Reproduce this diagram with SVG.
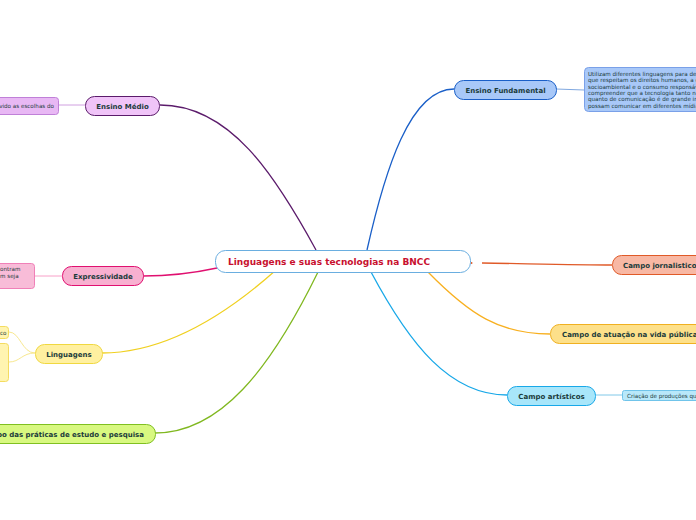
<svg xmlns="http://www.w3.org/2000/svg" width="696" height="520" viewBox="0 0 696 520">
<style>
.lbl{font-family:"DejaVu Sans",Verdana,sans-serif;font-weight:bold;font-size:7px;fill:#1b3b3b}
.sm{font-family:"DejaVu Sans",Verdana,sans-serif;font-size:5.6px;fill:#1b3b3b}
.con{fill:none;stroke-width:1.3}
.sub{fill:none;stroke-width:1}
</style>
<rect width="696" height="520" fill="#ffffff"/>
<g id="connectors">
<path class="con" d="M160,105 C230,105 275,175 316,250" stroke="#5b1b6b"/>
<path class="con" d="M367,250 C385,170 410,89 454,89" stroke="#1a5fc8"/>
<path class="con" d="M482,263 C540,264 580,265 612,265" stroke="#e05a28"/>
<circle cx="471.5" cy="263" r="1" fill="#e05a28"/>
<path class="con" d="M428,272 C470,315 500,334 550,334" stroke="#f8b020"/>
<path class="con" d="M371,272 C410,345 450,395 507,395" stroke="#18a8e8"/>
<path class="con" d="M217,268 C185,275 165,276 143,276" stroke="#e01070"/>
<path class="con" d="M276,270 C220,320 160,353 102,353" stroke="#f0d020"/>
<path class="con" d="M318,272 C270,370 220,433 155,433" stroke="#80b820"/>
<path class="sub" d="M59,105 L85,105" stroke="#d0a0e0"/>
<path class="sub" d="M556,89 L584,90" stroke="#80a8e0"/>
<path class="sub" d="M35,276 L62,276" stroke="#f8a0c8"/>
<path class="sub" d="M595,395 L622,395" stroke="#80c8e8"/>
<path class="sub" d="M35,353 C22,353 20,332 9,332" stroke="#f8e890"/>
<path class="sub" d="M35,353 C22,353 20,362 9,362" stroke="#f8e890"/>
</g>
<g id="central">
<rect x="215.5" y="250.5" width="255" height="22" rx="10" fill="#ffffff" stroke="#6aaee0" stroke-width="1"/>
<text x="228" y="265" font-family="DejaVu Sans,Verdana,sans-serif" font-weight="bold" font-size="9" fill="#c8102e">Linguagens e suas tecnologias na BNCC</text>
</g>
<g id="ensino-medio">
<rect x="85.5" y="96.5" width="74" height="19" rx="9" fill="#f0c4f8" stroke="#5b1b6b"/>
<text class="lbl" x="122.5" y="108.5" text-anchor="middle">Ensino Médio</text>
</g>
<g id="ensino-medio-note">
<rect x="-5.5" y="97.5" width="64" height="17" rx="3" fill="#e8b8f4" stroke="#c080d8"/>
<text class="sm" x="54" y="107.5" text-anchor="end">vido as escolhas do</text>
</g>
<g id="ensino-fundamental">
<rect x="454.5" y="80.5" width="102" height="19" rx="9" fill="#a8c8f8" stroke="#1a5fc8"/>
<text class="lbl" x="505.5" y="92.5" text-anchor="middle">Ensino Fundamental</text>
</g>
<g id="ensino-fundamental-note">
<rect x="584.5" y="67.5" width="120" height="44" rx="4" fill="#a8c8f8" stroke="#7aa0e8"/>
<text class="sm" x="588" y="76">Utilizam diferentes linguagens para def</text>
<text class="sm" x="588" y="82.3">que respeitam os direitos humanos, a c</text>
<text class="sm" x="588" y="88.6">socioambiental e o consumo responsáv</text>
<text class="sm" x="588" y="94.9">compreender que a tecnologia tanto na</text>
<text class="sm" x="588" y="101.2">quanto de comunicação é de grande im</text>
<text class="sm" x="588" y="107.5">possam comunicar em diferentes mídia</text>
</g>
<g id="campo-jornalistico">
<rect x="612.5" y="255.5" width="95" height="19" rx="9" fill="#f8b8a4" stroke="#e05a28"/>
<text class="lbl" x="623" y="268">Campo jornalistico</text>
</g>
<g id="campo-atuacao">
<rect x="550.5" y="324.5" width="155" height="19" rx="9" fill="#fde08a" stroke="#f0b020"/>
<text class="lbl" x="562" y="337">Campo de atuação na vida pública</text>
</g>
<g id="campo-artisticos">
<rect x="507.5" y="386.5" width="88" height="19" rx="9" fill="#a8e6fa" stroke="#18a8e8"/>
<text class="lbl" x="551.5" y="398.5" text-anchor="middle">Campo artísticos</text>
</g>
<g id="campo-artisticos-note">
<rect x="622.5" y="390.5" width="80" height="10" rx="2" fill="#b8e8fa" stroke="#70c4ea"/>
<text class="sm" x="627" y="397.5">Criação de produções que</text>
</g>
<g id="expressividade">
<rect x="62.5" y="266.5" width="81" height="19" rx="9" fill="#f8b0d0" stroke="#e01070"/>
<text class="lbl" x="103" y="278.5" text-anchor="middle">Expressividade</text>
</g>
<g id="expressividade-note">
<rect x="-5.5" y="263.5" width="40" height="25" rx="3" fill="#f8bcd8" stroke="#f080b8"/>
<text class="sm" x="0" y="271">ontram</text>
<text class="sm" x="0" y="278">m seja</text>
</g>
<g id="linguagens">
<rect x="35.5" y="344.5" width="67" height="19" rx="9" fill="#fff0a0" stroke="#f0d840"/>
<text class="lbl" x="69" y="356.5" text-anchor="middle">Linguagens</text>
</g>
<g id="linguagens-note1">
<rect x="-5.5" y="326.5" width="14" height="12" rx="3" fill="#fff4b0" stroke="#f4dc60"/>
<text class="sm" x="0" y="334.5">co</text>
</g>
<g id="linguagens-note2">
<rect x="-5.5" y="343.5" width="14" height="38" rx="3" fill="#fff4b0" stroke="#f4dc60"/>
</g>
<g id="campo-praticas">
<rect x="-10.5" y="424.5" width="166" height="19" rx="9" fill="#d8f880" stroke="#80c020"/>
<text class="lbl" x="144" y="436.5" text-anchor="end">Campo das práticas de estudo e pesquisa</text>
</g>
</svg>
